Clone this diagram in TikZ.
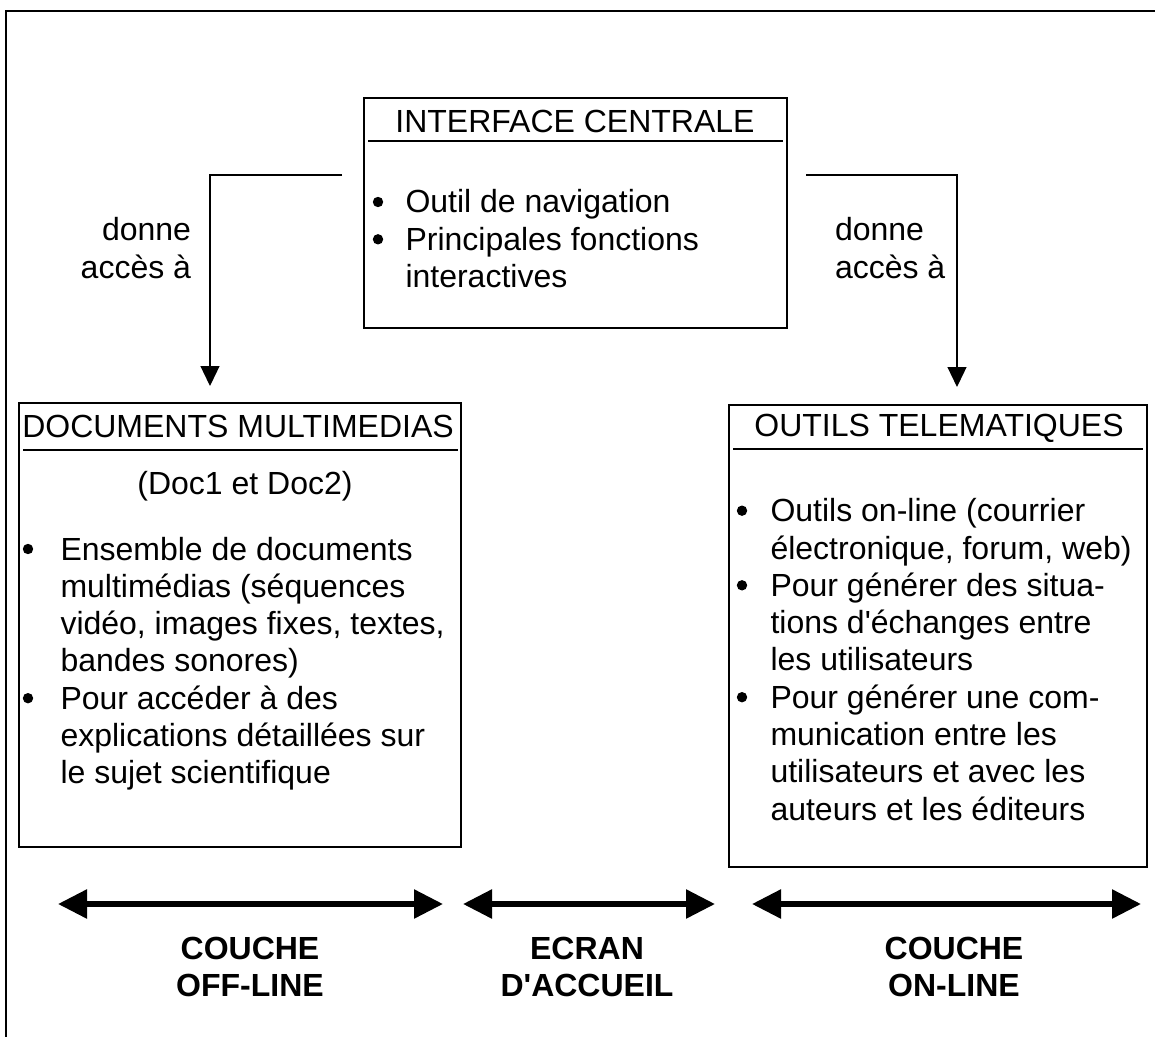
\documentclass[tikz,border=0pt]{standalone}
\usepackage{fontspec}
\setmainfont{Liberation Sans}
\usetikzlibrary{arrows.meta}
\begin{document}
\begin{tikzpicture}[x=0.5pt,y=-0.5pt,
  txt/.style={inner sep=0pt, outer sep=0pt, font=\fontsize{16pt}{18.65pt}\selectfont},
  lbl/.style={inner sep=0pt, outer sep=0pt, font=\fontsize{16pt}{18.5pt}\selectfont\bfseries},
  panel/.style={draw, line width=0.75pt, inner sep=0pt, outer sep=0pt},
  sepline/.style={line width=1pt},
  frameline/.style={line width=1.2pt},
  conn/.style={line width=0.65pt, -{Triangle[length=10pt 0, width=9.5pt 0]}},
  layer/.style={line width=2.8pt, {Triangle[length=14.5pt 0,width=14pt 0]}-{Triangle[length=14.5pt 0,width=14pt 0]}},
  bul/.style={circle, fill, inner sep=0pt, outer sep=0pt, minimum size=5.2pt},
]
\useasboundingbox (0,0) rectangle (1155,1037);
% outer frame (only top and left visible)
\draw[frameline] (6,1037) -- (6,11) -- (1155,11);

% ---- central box ----
\node[panel, minimum width=211.5pt, minimum height=115pt] (cbox) at (575.5,213) {};
\node[txt, anchor=base] (ctitle) at (575,132.5) {INTERFACE CENTRALE};
\draw[sepline] (368,141) -- (783,141);
\node[bul] (cb1) at (378,202) {};
\node[bul] (cb2) at (378,239.3) {};
\node[txt, anchor=base west] (cbody) at (405.5,213) {\begin{tabular}[t]{@{}l@{}}Outil de navigation\\Principales fonctions\\interactives\end{tabular}};

% ---- left box ----
\node[panel, minimum width=221pt, minimum height=222pt] (lbox) at (240,625) {};
\node[txt, anchor=base] (ltitle) at (238,437) {DOCUMENTS MULTIMEDIAS};
\draw[sepline] (23,450) -- (458,450);
\node[txt, anchor=base] (lsub) at (245,494.5) {(Doc1 et Doc2)};
\node[bul] (lb1) at (28,549) {};
\node[bul] (lb2) at (28,698.2) {};
\node[txt, anchor=base west] (lbody) at (60.5,560) {\begin{tabular}[t]{@{}l@{}}Ensemble de documents\\multimédias (séquences\\vidéo, images fixes, textes,\\bandes sonores)\\Pour accéder à des\\explications détaillées sur\\le sujet scientifique\end{tabular}};

% ---- right box ----
\node[panel, minimum width=209pt, minimum height=231pt] (rbox) at (938,636) {};
\node[txt, anchor=base] (rtitle) at (939,436) {OUTILS TELEMATIQUES};
\draw[sepline] (733,449) -- (1143,449);
\node[bul] (rb1) at (742,510.7) {};
\node[bul] (rb2) at (742,585.3) {};
\node[bul] (rb3) at (742,697.2) {};
\node[txt, anchor=base west] (rbody) at (770.5,521.7) {\begin{tabular}[t]{@{}l@{}}Outils on-line (courrier\\électronique, forum, web)\\Pour générer des situa-\\tions d\textquotesingle échanges entre\\les utilisateurs\\Pour générer une com-\\munication entre les\\utilisateurs et avec les\\auteurs et les éditeurs\end{tabular}};

% ---- connectors ----
\coordinate (cl) at (342,175);
\coordinate (la) at (210,386);
\coordinate (cr) at (806,175);
\coordinate (ra) at (957,387);
\draw[conn] (cl) -| (la);
\draw[conn] (cr) -| (ra);
\node[txt, anchor=base east] (ldon) at (191,241) {\begin{tabular}[t]{@{}r@{}}donne\\accès à\end{tabular}};
\node[txt, anchor=base west] (rdon) at (835,241) {\begin{tabular}[t]{@{}l@{}}donne\\accès à\end{tabular}};

% ---- layer arrows ----
\coordinate (a1l) at (58,904);
\coordinate (a1r) at (443,904);
\coordinate (a2l) at (463,904);
\coordinate (a2r) at (715,904);
\coordinate (a3l) at (752,904);
\coordinate (a3r) at (1141,904);
\draw[layer] (a1l) -- (a1r);
\draw[layer] (a2l) -- (a2r);
\draw[layer] (a3l) -- (a3r);
\node[lbl, anchor=base] (off) at (250,959.5) {\begin{tabular}[t]{@{}c@{}}COUCHE\\OFF-LINE\end{tabular}};
\node[lbl, anchor=base] (acc) at (587,959.5) {\begin{tabular}[t]{@{}c@{}}ECRAN\\D\textquotesingle ACCUEIL\end{tabular}};
\node[lbl, anchor=base] (on) at (954,959.5) {\begin{tabular}[t]{@{}c@{}}COUCHE\\ON-LINE\end{tabular}};
\end{tikzpicture}
\end{document}
